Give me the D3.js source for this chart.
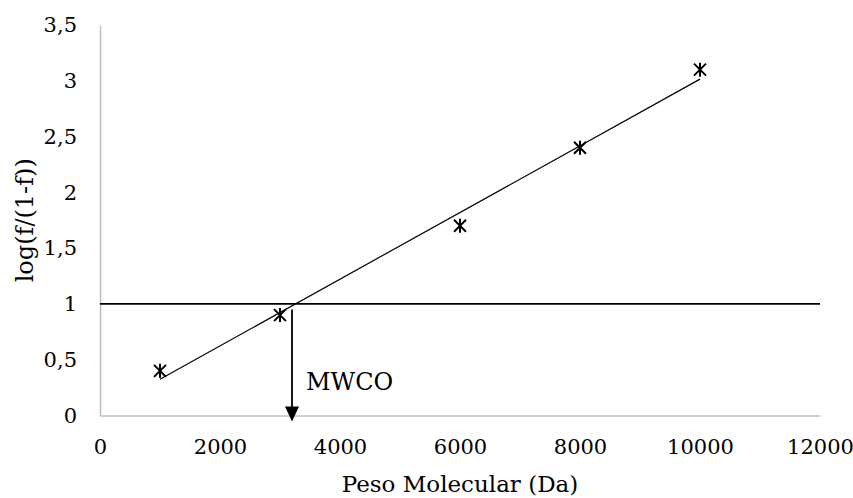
<!DOCTYPE html>
<html>
<head>
<meta charset="utf-8">
<script src="https://cdn.jsdelivr.net/npm/d3@7"></script>
<style>
  body { margin: 0; background: #fff; }
  svg { display: block; font-family: "DejaVu Serif", serif; }
</style>
</head>
<body>
<div id="chart"></div>
<script>
// data
const pesoMolecular = [1000, 3000, 6000, 8000, 10000];
const logRatio = [0.4, 0.9, 1.7, 2.4, 3.1];
const xTicks = [0, 2000, 4000, 6000, 8000, 10000, 12000];
const yTicks = [0, 0.5, 1, 1.5, 2, 2.5, 3, 3.5];
const cutoffLevel = 1;
const mwcoValue = 3200;
const mwcoTop = 0.95;

const width = 853, height = 498;
const margin = {top: 25, right: 33, bottom: 82.5, left: 100};

const svg = d3.select("#chart").append("svg")
    .attr("width", width)
    .attr("height", height);

const x = d3.scaleLinear().domain([0, 12000]).range([margin.left, width - margin.right]);
const y = d3.scaleLinear().domain([0, 3.5]).range([height - margin.bottom, margin.top]);

const fmt = d => String(d).replace(".", ",");

// axes, no tick marks, light grey line
const xAxis = svg.append("g")
    .attr("transform", `translate(0,${y(0)})`)
    .call(d3.axisBottom(x).tickValues(xTicks).tickSize(0).tickPadding(24).tickFormat(d => d));
const yAxis = svg.append("g")
    .attr("transform", `translate(${x(0)},0)`)
    .call(d3.axisLeft(y).tickValues(yTicks).tickSize(0).tickPadding(23).tickFormat(fmt));

[xAxis, yAxis].forEach(g => {
    g.attr("font-size", 21).attr("font-family", "DejaVu Serif");
    g.select(".domain").attr("stroke", "#bfbfbf").attr("stroke-width", 1.5);
    g.selectAll("text").attr("fill", "#000");
});

// linear trendline (least squares)
const mx = d3.mean(pesoMolecular), my = d3.mean(logRatio);
const slope = d3.sum(pesoMolecular, (v, i) => (v - mx) * (logRatio[i] - my)) /
              d3.sum(pesoMolecular, v => (v - mx) ** 2);
const intercept = my - slope * mx;
const ext = d3.extent(pesoMolecular);

svg.append("line")
    .attr("x1", x(ext[0])).attr("y1", y(intercept + slope * ext[0]))
    .attr("x2", x(ext[1])).attr("y2", y(intercept + slope * ext[1]))
    .attr("stroke", "#000").attr("stroke-width", 1.2);

// horizontal level line at 1
svg.append("line")
    .attr("x1", x(0)).attr("x2", x(12000))
    .attr("y1", y(cutoffLevel)).attr("y2", y(cutoffLevel))
    .attr("stroke", "#000").attr("stroke-width", 1.8);

// star markers
const star = "M-6,-6L6,6M-6,6L6,-6M0,-7L0,7";
svg.append("g").selectAll("path")
    .data(pesoMolecular)
    .join("path")
    .attr("transform", (d, i) => `translate(${x(d)},${y(logRatio[i])})`)
    .attr("d", star)
    .attr("fill", "none")
    .attr("stroke", "#000")
    .attr("stroke-width", 2);

// MWCO arrow
const ax = x(mwcoValue), tip = y(0) + 6;
svg.append("line")
    .attr("x1", ax).attr("x2", ax)
    .attr("y1", y(mwcoTop)).attr("y2", tip - 14)
    .attr("stroke", "#000").attr("stroke-width", 1.8);
svg.append("path")
    .attr("d", `M${ax - 7},${tip - 15}L${ax + 7},${tip - 15}L${ax},${tip}Z`)
    .attr("fill", "#000");

svg.append("text")
    .attr("x", ax + 14)
    .attr("y", 390)
    .attr("font-size", 24)
    .text("MWCO");

// axis titles
svg.append("text")
    .attr("x", (x(0) + x(12000)) / 2)
    .attr("y", 492)
    .attr("text-anchor", "middle")
    .attr("font-size", 23)
    .text("Peso Molecular (Da)");

svg.append("text")
    .attr("transform", `translate(33,${(y(0) + y(3.5)) / 2}) rotate(-90)`)
    .attr("text-anchor", "middle")
    .attr("font-size", 24)
    .text("log(f/(1-f))");
</script>
</body>
</html>
